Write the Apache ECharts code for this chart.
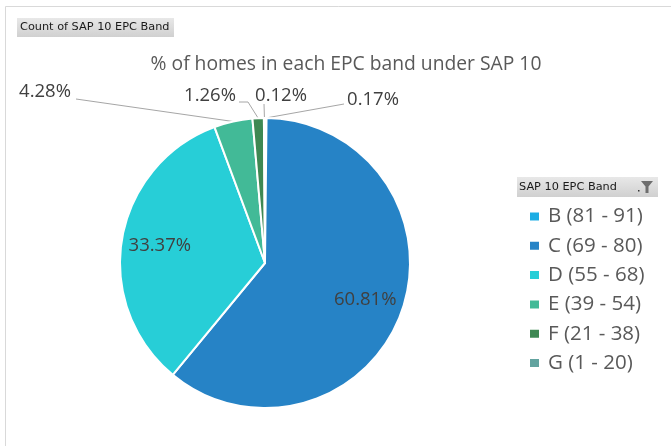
<!DOCTYPE html>
<html>
<head>
<meta charset="utf-8">
<script src="https://cdn.jsdelivr.net/npm/echarts@6/dist/echarts.min.js"></script>
<style>
  html, body { margin: 0; padding: 0; background: #fff; }
  #chart { width: 671px; height: 446px; }
</style>
</head>
<body>
<div id="chart"></div>
<script>
// EPC bands and their share of homes (%)
const bands = ['B (81 - 91)', 'C (69 - 80)', 'D (55 - 68)', 'E (39 - 54)', 'F (21 - 38)', 'G (1 - 20)'];
const shares = [0.17, 60.81, 33.37, 4.28, 1.26, 0.12];
const bandColors = ['#1CADE4', '#2683C6', '#27CED7', '#42BA97', '#3E8853', '#62A39F'];

// which slices carry their label inside the pie
const insideLabel = [false, true, true, false, false, false];

const FONT = '"Open Sans", "Noto Sans", sans-serif';
const UI_FONT = '"DejaVu Sans", sans-serif';
const PIE_CENTER = [265, 263];
const PIE_RADIUS = 145;

// text anchor and leader-line bends for the small slices (pixel layout)
const outsideLabelLayout = {
  0: { x: 373, y: 100, bends: [[344, 104]] },
  3: { x: 45, y: 92, bends: [[76, 99]] },
  4: { x: 210, y: 96, bends: [[248, 102], [239, 102]] },
  5: { x: 281, y: 96, bends: [[264, 104]] }
};

const pieData = bands.map((name, i) => ({
  name: name,
  value: shares[i],
  itemStyle: { color: bandColors[i] },
  label: { show: !insideLabel[i] },
  labelLine: { show: !insideLabel[i] }
}));

const innerLabelData = bands.map((name, i) => ({
  name: name,
  value: shares[i],
  label: { show: insideLabel[i] }
}));

const buttonFill = () => new echarts.graphic.LinearGradient(0, 0, 0, 1, [
  { offset: 0, color: '#e8e8e8' }, { offset: 1, color: '#d0d0d0' }]);

const chart = echarts.init(document.getElementById('chart'), null, { renderer: 'canvas' });

chart.setOption({
  backgroundColor: '#ffffff',
  animation: false,
  title: {
    text: '% of homes in each EPC band under SAP 10',
    left: 341,
    top: 50,
    textAlign: 'center',
    textStyle: { fontFamily: FONT, fontSize: 19.3, fontWeight: 'normal', color: '#595959' }
  },
  legend: {
    orient: 'vertical',
    left: 528,
    top: 206,
    padding: 0,
    itemGap: 8.3,
    itemWidth: 11,
    itemHeight: 10,
    icon: 'rect',
    selectedMode: false,
    data: bands,
    textStyle: { fontFamily: FONT, fontSize: 20.5, color: '#595959', lineHeight: 20, padding: [0, 0, 0, 3] }
  },
  graphic: [
    // chart frame
    { type: 'line', shape: { x1: 5.5, y1: 6.5, x2: 671, y2: 6.5 }, style: { stroke: '#d9d9d9', lineWidth: 1 } },
    { type: 'line', shape: { x1: 5.5, y1: 6.5, x2: 5.5, y2: 446 }, style: { stroke: '#d9d9d9', lineWidth: 1 } },
    // value field button
    {
      type: 'group', left: 17, top: 18,
      children: [
        { type: 'rect', shape: { x: 0, y: 0, width: 157, height: 19 }, style: { fill: buttonFill() } },
        { type: 'text', x: 3, y: 9.5,
          style: { text: 'Count of SAP 10 EPC Band', fontFamily: UI_FONT, fontSize: 11.3,
                   fill: '#1a1a1a', verticalAlign: 'middle' } }
      ]
    },
    // legend field button with filter icon
    {
      type: 'group', left: 517, top: 177,
      children: [
        { type: 'rect', shape: { x: 0, y: 0, width: 141, height: 20 }, style: { fill: buttonFill() } },
        { type: 'text', x: 2, y: 10,
          style: { text: 'SAP 10 EPC Band', fontFamily: UI_FONT, fontSize: 11.3,
                   fill: '#1a1a1a', verticalAlign: 'middle' } },
        { type: 'rect', shape: { x: 121, y: 13, width: 1.5, height: 1.5 }, style: { fill: '#333' } },
        { type: 'polygon', shape: { points: [[124, 4], [136, 4], [131.5, 9.5], [131.5, 16], [128.5, 16], [128.5, 9.5]] },
          style: { fill: '#6e6e6e' } }
      ]
    }
  ],
  series: [
    {
      name: 'share',
      type: 'pie',
      center: PIE_CENTER,
      radius: PIE_RADIUS,
      startAngle: 90,
      clockwise: true,
      avoidLabelOverlap: false,
      itemStyle: { borderColor: '#ffffff', borderWidth: 2 },
      label: {
        position: 'outside',
        formatter: (p) => p.value.toFixed(2) + '%',
        fontFamily: FONT,
        fontSize: 18.5,
        color: '#404040'
      },
      labelLine: { show: true, length: 10, length2: 10, lineStyle: { color: '#a6a6a6', width: 1 } },
      labelLayout: (params) => {
        const spec = outsideLabelLayout[params.dataIndex];
        if (!spec || !params.labelLinePoints) return {};
        const start = params.labelLinePoints[0];
        return {
          x: spec.x,
          y: spec.y,
          align: 'center',
          verticalAlign: 'middle',
          labelLinePoints: [start].concat(spec.bends)
        };
      },
      data: pieData
    },
    {
      // transparent ring used only to place the large-slice labels further out
      name: 'share-labels',
      type: 'pie',
      center: PIE_CENTER,
      radius: PIE_RADIUS * 1.43,
      startAngle: 90,
      clockwise: true,
      silent: true,
      z: 3,
      itemStyle: { color: 'rgba(0,0,0,0)' },
      label: {
        position: 'inside',
        formatter: (p) => p.value.toFixed(2) + '%',
        fontFamily: FONT,
        fontSize: 18.5,
        color: '#404040'
      },
      labelLine: { show: false },
      data: innerLabelData
    }
  ]
});
</script>
</body>
</html>
